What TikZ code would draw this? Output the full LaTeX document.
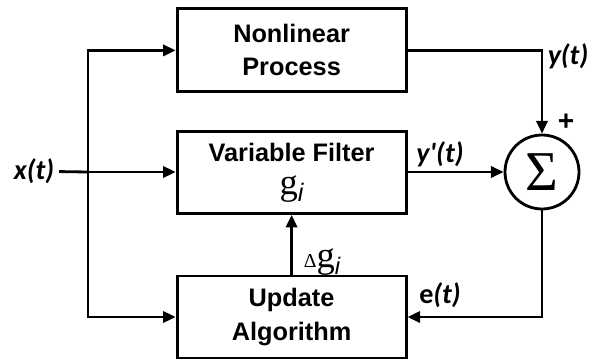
\documentclass[tikz,border=0pt]{standalone}
\usepackage{fontspec}
\setmainfont{Liberation Sans}
\newfontfamily\serif{Liberation Serif}
\newfontfamily\lblfont{Carlito}
\usetikzlibrary{arrows.meta}

\begin{document}
\begin{tikzpicture}[
    wire/.style={line width=2pt},
    myarrow/.style={line width=2pt, -{Triangle[length=9pt,width=8pt]}},
    block/.style={draw, line width=2pt, minimum width=5.725cm, minimum height=2.075cm,
        align=center, font=\fontsize{18}{23.5}\selectfont\bfseries},
    sumnode/.style={circle, draw, line width=2pt, minimum size=1.85cm, inner sep=0pt},
    lbl/.style={font=\fontsize{20}{22}\selectfont\lblfont\bfseries\itshape}
]
    \useasboundingbox (0,0) rectangle (15.15,9);

    % ==========================================
    % 1. BLOCKS
    % ==========================================

    \node[block] (plant) at (7.29, 7.74) {Nonlinear\\Process};

    \node[block, minimum height=2.05cm] (filter) at (7.29, 4.69)
        {Variable Filter\\{\fontsize{26}{26}\selectfont\serif\mdseries g}\raisebox{-5pt}{\mdseries\itshape i}};

    \node[block, minimum height=2.05cm] (update) at (7.29, 1.075) {Update\\Algorithm};

    \node[sumnode] (sum) at (13.55, 4.7) {\fontsize{40}{40}\selectfont\serif Σ};

    % ==========================================
    % 2. LABELS
    % ==========================================

    \node[lbl] (xin) at (0.85, 4.72) {x(t)};
    \node[lbl] (ylbl) at (14.2, 7.6) {y(t)};
    \node[font=\fontsize{20}{20}\selectfont\bfseries] (plus) at (14.15, 5.95) {+};
    \node[lbl] (yflbl) at (11.0, 5.15) {y'(t)};
    \node[lbl] (elbl) at (11.0, 1.62) {{\upshape e}(t)};
    \node (dglbl) at (8.05, 2.45) {{\fontsize{14}{14}\selectfont\serif Δ}{\fontsize{26}{26}\selectfont\serif g}\raisebox{-5pt}{\fontsize{17}{17}\selectfont\itshape i}};

    % ==========================================
    % 3. CONNECTORS
    % ==========================================

    \coordinate (split) at (2.2, 4.7);

    % --- Input fan-out ---
    \draw[wire] (xin) -- (split);
    \draw[myarrow] (split) -- (filter.west |- split);
    \draw[myarrow] (split) |- (plant.west);
    \draw[myarrow] (split) |- (update.west);

    % --- Into the summer ---
    \draw[myarrow] (plant.east) -| (sum.north);
    \draw[myarrow] (filter.east |- sum) -- (sum.west);

    % --- Error feedback ---
    \draw[myarrow] (sum.south) |- (update.east);
    \draw[myarrow] (update.north) -- (filter.south);

\end{tikzpicture}
\end{document}
